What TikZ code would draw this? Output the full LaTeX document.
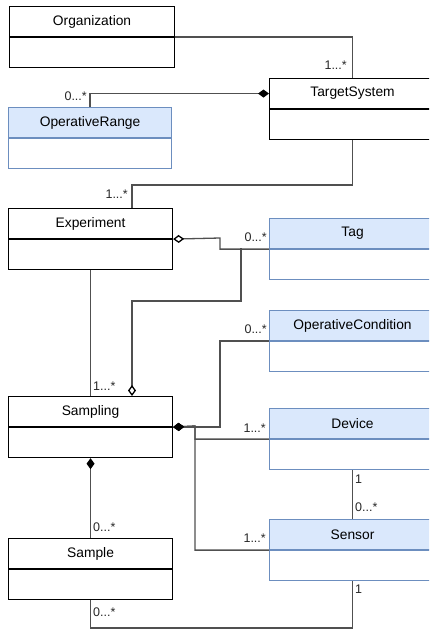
\documentclass[tikz,border=0pt]{standalone}
\usepackage{fontspec}
\setmainfont{Liberation Sans}
\usetikzlibrary{arrows.meta,calc}
\definecolor{bfill}{HTML}{DAE8FC}
\definecolor{bline}{HTML}{6C8EBF}
\definecolor{conncol}{HTML}{505050}
\tikzset{
  hdr/.style={draw, line width=1.1pt, minimum height=30pt, anchor=north west, inner sep=0pt, fill=white, font=\fontsize{13.8}{16}\selectfont},
  bdy/.style={draw, line width=1.1pt, minimum height=30pt, anchor=north, inner sep=0pt, fill=white},
  bluehdr/.style={draw=bline, fill=bfill},
  bluebdy/.style={draw=bline, fill=white},
  conn/.style={draw=conncol, line width=1.3pt},
  comp/.style={conn, {Diamond[length=11pt,width=8pt,color=black]}-},
  agg/.style={conn, {Diamond[open,length=11pt,width=8pt,fill=white,color=black]}-},
  lbl/.style={font=\fontsize{12.5}{14}\selectfont, inner sep=0pt, text=black!85}
}
\newcommand\umlcls[7]{%
  \node[hdr,minimum width=#4pt,#6] (#1h) at (#2,#3) {#5};
  \node[bdy,minimum width=#4pt,#7] (#1b) at (#1h.south) {};
}
\begin{document}
\begin{tikzpicture}[x=1pt,y=-1pt]
\useasboundingbox (0,0) rectangle (429,632);
\clip (0,0) rectangle (429,632);
% classes
\umlcls{org}{9}{6}{165}{Organization}{}{}
\umlcls{or}{8}{107}{163}{OperativeRange}{bluehdr}{bluebdy}
\umlcls{ts}{269}{78}{166}{TargetSystem}{}{}
\umlcls{ex}{8}{208}{164}{Experiment}{}{}
\umlcls{tag}{269}{218}{166}{Tag}{bluehdr}{bluebdy}
\umlcls{oc}{269}{310}{166}{OperativeCondition}{bluehdr}{bluebdy}
\umlcls{sm}{8}{396}{164}{Sampling}{}{}
\umlcls{dv}{269}{408}{166}{Device}{bluehdr}{bluebdy}
\umlcls{sa}{8}{538}{164}{Sample}{}{}
\umlcls{sn}{269}{519}{166}{Sensor}{bluehdr}{bluebdy}
% coordinates
\coordinate (tsex) at (132,185);
\coordinate (extag) at (220,238);
\coordinate (smtag) at (241,301);
\coordinate (tagj) at (241,248);
\coordinate (smbus) at (195,426);
\coordinate (bot) at (352,628);
% connectors
\draw[conn] (orgh.south east) -| (tsh.north);
\draw[comp] (tsh.west) -| (orh.north);
\draw[conn] (tsb.south) |- (tsex) -- (tsex |- exh.north);
\draw[agg] (exh.south east) -- (extag) |- (tagh.south west);
\draw[agg] (tsex |- smh.north) |- (smtag) -- (tagj);
\draw[conn] (exb.south) -- (smh.north);
\draw[comp] (smh.south east) -- (smh.south east -| extag) |- (och.south west);
\draw[comp] (smh.south east) -- (smbus) |- (dvh.south west);
\draw[comp] (smh.south east) -- (smbus) |- (snh.south west);
\draw[conn] (dvb.south) -- (snh.north);
\draw[comp] (smb.south) -- (sah.north);
\draw[conn] (snb.south) -- (snb.south |- bot) -| (sab.south);
% labels
\node[lbl,anchor=east] (l1) at (347,65) {1...*};
\node[lbl,anchor=east] (l2) at (87,96) {0...*};
\node[lbl,anchor=east] (l3) at (128,194) {1...*};
\node[lbl,anchor=east] (l4) at (267,237) {0...*};
\node[lbl,anchor=west] (l5) at (93,386) {1...*};
\node[lbl,anchor=east] (l6) at (267,329) {0...*};
\node[lbl,anchor=east] (l7) at (266,428) {1...*};
\node[lbl,anchor=east] (l8) at (266,538) {1...*};
\node[lbl,anchor=west] (l9) at (355,479) {1};
\node[lbl,anchor=west] (l10) at (355,507) {0...*};
\node[lbl,anchor=west] (l11) at (355,589) {1};
\node[lbl,anchor=west] (l12) at (93,527) {0...*};
\node[lbl,anchor=west] (l13) at (93,612) {0...*};
\end{tikzpicture}
\end{document}
